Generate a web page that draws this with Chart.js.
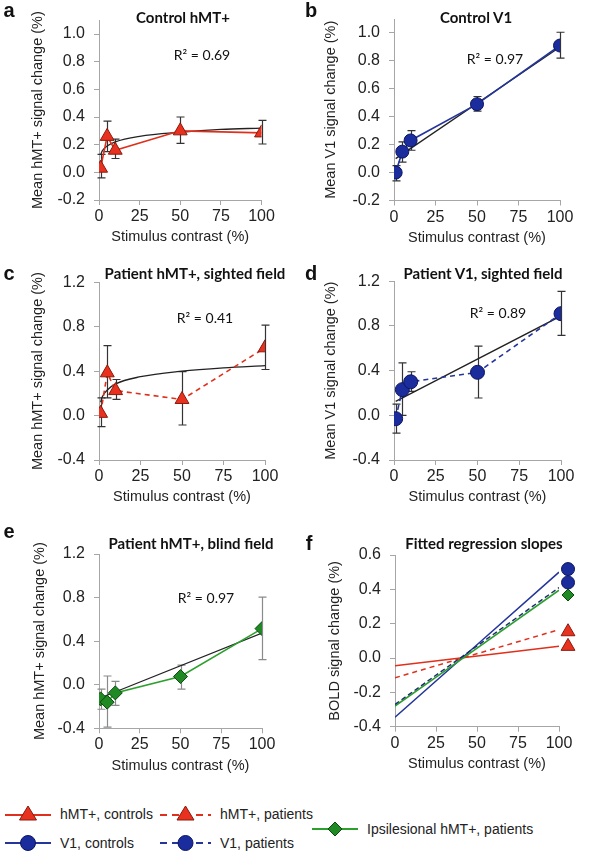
<!DOCTYPE html>
<html>
<head>
<meta charset="utf-8">
<script src="https://cdn.jsdelivr.net/npm/chart.js@4.4.1/dist/chart.umd.min.js"></script>
<style>
body { margin:0; background:#fff; width:598px; height:853px; position:relative; overflow:hidden; font-family:"Liberation Sans", Arial, sans-serif; color:#111; }
canvas { position:absolute; }
.lbl { position:absolute; font-weight:bold; font-size:20px; line-height:1; transform:translate(-50%,-50%); }
.ttl { position:absolute; font-family:Lato, sans-serif; font-weight:bold; font-size:15px; line-height:1; white-space:nowrap; transform:translate(-50%,-50%); }
.r2 { position:absolute; font-family:Lato, sans-serif; font-size:14px; line-height:1; white-space:nowrap; transform:translate(-50%,-50%); }
.leg { position:absolute; display:flex; align-items:center; font-size:14px; color:#222; white-space:nowrap; transform:translateY(-50%); }
.leg svg { margin-right:9px; }
</style>
</head>
<body>
<canvas id="cvA"></canvas><canvas id="cvB"></canvas><canvas id="cvC"></canvas>
<canvas id="cvD"></canvas><canvas id="cvE"></canvas><canvas id="cvF"></canvas>

<div class="lbl" style="left:9px;top:10px">a</div>
<div class="lbl" style="left:311px;top:10px">b</div>
<div class="lbl" style="left:9px;top:273px">c</div>
<div class="lbl" style="left:311px;top:273px">d</div>
<div class="lbl" style="left:9px;top:531px">e</div>
<div class="lbl" style="left:309px;top:543px">f</div>

<div class="ttl" style="left:183px;top:17px">Control hMT+</div>
<div class="ttl" style="left:476px;top:17px">Control V1</div>
<div class="ttl" style="left:195px;top:273px">Patient hMT+, sighted field</div>
<div class="ttl" style="left:483px;top:273px">Patient V1, sighted field</div>
<div class="ttl" style="left:191px;top:543px">Patient hMT+, blind field</div>
<div class="ttl" style="left:484px;top:543px">Fitted regression slopes</div>

<div class="r2" style="left:202px;top:55px">R² = 0.69</div>
<div class="r2" style="left:495px;top:59px">R² = 0.97</div>
<div class="r2" style="left:205px;top:318px">R² = 0.41</div>
<div class="r2" style="left:498px;top:313px">R² = 0.89</div>
<div class="r2" style="left:206px;top:598px">R² = 0.97</div>

<div class="leg" style="left:5px;top:814px">
  <svg width="46" height="18"><line x1="0" y1="10" x2="46" y2="10" stroke="#e0301c" stroke-width="2.2"/><polygon points="23,1 31.5,15 14.5,15" fill="#e8321f" stroke="#8a1a0c"/></svg>hMT+, controls</div>
<div class="leg" style="left:160px;top:814px">
  <svg width="51" height="18"><line x1="0" y1="10" x2="51" y2="10" stroke="#e0301c" stroke-width="2.2" stroke-dasharray="7,5"/><polygon points="25.5,1 34,15 17,15" fill="#e8321f" stroke="#8a1a0c"/></svg>hMT+, patients</div>
<div class="leg" style="left:5px;top:843px">
  <svg width="46" height="18"><line x1="0" y1="9" x2="46" y2="9" stroke="#24369c" stroke-width="2.2"/><circle cx="23" cy="9" r="7.5" fill="#1b2c9c" stroke="#0c1660"/></svg>V1, controls</div>
<div class="leg" style="left:160px;top:843px">
  <svg width="51" height="18"><line x1="0" y1="9" x2="51" y2="9" stroke="#24369c" stroke-width="2.2" stroke-dasharray="7,5"/><circle cx="25.5" cy="9" r="7.5" fill="#1b2c9c" stroke="#0c1660"/></svg>V1, patients</div>
<div class="leg" style="left:312px;top:829px">
  <svg width="46" height="18"><line x1="0" y1="9" x2="46" y2="9" stroke="#2ca02c" stroke-width="2.2"/><polygon points="23,2 30,9 23,16 16,9" fill="#1f8a24" stroke="#0a4a0e"/></svg>Ipsilesional hMT+, patients</div>

<script>
// stimulus contrast levels (%)
const contrast = [1, 5, 10, 50, 100];
const xTicks = [0, 25, 50, 75, 100];
const yTicksTop = [-0.2, 0, 0.2, 0.4, 0.6, 0.8, 1.0];
const yTicksMid = [-0.4, 0, 0.4, 0.8, 1.2];
const yTicksSlope = [-0.4, -0.2, 0, 0.2, 0.4, 0.6];

// a: control hMT+
const hmtCtrlMean = [0.03, 0.26, 0.16, 0.30, 0.285];
const hmtCtrlHi = [0.13, 0.37, 0.24, 0.40, 0.375];
const hmtCtrlLo = [-0.04, 0.15, 0.10, 0.21, 0.205];
const fitCurveX = [1, 2, 5, 10, 25, 50, 75, 100];
const hmtCtrlFit = [0.125, 0.155, 0.19, 0.22, 0.26, 0.29, 0.31, 0.32];

// b: control V1
const v1CtrlMean = [0.0, 0.15, 0.23, 0.49, 0.91];
const v1CtrlHi = [0.05, 0.22, 0.30, 0.545, 1.005];
const v1CtrlLo = [-0.06, 0.075, 0.16, 0.44, 0.82];
const fitLineX = [1, 100];
const v1CtrlFit = [0.10, 0.90];

// c: patient hMT+, sighted field
const hmtPatMean = [0.02, 0.385, 0.225, 0.145, 0.61];
const hmtPatHi = [0.16, 0.63, 0.325, 0.395, 0.815];
const hmtPatLo = [-0.10, 0.16, 0.145, -0.085, 0.415];
const hmtPatFit = [0.12, 0.17, 0.23, 0.285, 0.35, 0.40, 0.43, 0.45];

// d: patient V1, sighted field
const v1PatMean = [-0.03, 0.23, 0.30, 0.385, 0.91];
const v1PatHi = [0.10, 0.47, 0.39, 0.62, 1.11];
const v1PatLo = [-0.16, 0.0, 0.215, 0.155, 0.715];
const v1PatFit = [0.125, 0.89];

// e: patient hMT+, blind field
const ipsiMean = [-0.13, -0.16, -0.075, 0.075, 0.515];
const ipsiHi = [-0.04, 0.08, 0.03, 0.18, 0.805];
const ipsiLo = [-0.225, -0.39, -0.19, -0.04, 0.23];
const ipsiFit = [-0.12, 0.475];

// f: fitted regression slopes
const slopeX = [0, 100];
const slopeHmtCtrl = [-0.045, 0.068];
const slopeHmtPat = [-0.115, 0.165];
const slopeV1Ctrl = [-0.345, 0.50];
const slopeV1Pat = [-0.27, 0.41];
const slopeIpsi = [-0.28, 0.395];
const markerX = [105.5];
const markV1Ctrl = [0.518];
const markV1Pat = [0.44];
const markIpsi = [0.367];
const markHmtPat = [0.153];
const markHmtCtrl = [0.068];

Chart.defaults.font.family = '"Liberation Sans", Arial, sans-serif';
const axisGray = '#a6a6a6';
const red = '#e0301c', redFill = '#e8321f', redEdge = '#8a1a0c';
const blue = '#24369c', blueFill = '#1b2c9c', blueEdge = '#0c1660';
const green = '#2ca02c', greenFill = '#1f8a24', greenEdge = '#0a4a0e';

const pts = (xs, ys) => xs.map((x, i) => ({ x: x, y: ys[i] }));

// error bars drawn with the chart's scales
Chart.register({
  id: 'errorBars',
  beforeDatasetsDraw(chart, args, opts) {
    if (!opts || !opts.hi) return;
    const ctx = chart.ctx, sx = chart.scales.x, sy = chart.scales.y;
    ctx.save();
    ctx.strokeStyle = opts.color;
    ctx.lineWidth = 1.2;
    contrast.forEach((xv, i) => {
      const px = Math.round(sx.getPixelForValue(xv)) + 0.5;
      const t = sy.getPixelForValue(opts.hi[i]);
      const b = sy.getPixelForValue(opts.lo[i]);
      ctx.beginPath();
      ctx.moveTo(px, t); ctx.lineTo(px, b);
      ctx.moveTo(px - 4, t); ctx.lineTo(px + 4, t);
      ctx.moveTo(px - 4, b); ctx.lineTo(px + 4, b);
      ctx.stroke();
    });
    ctx.restore();
  }
});

// points that sit right of the axis end (panel f)
Chart.register({
  id: 'outsidePoints',
  afterDatasetsDraw(chart) {
    const full = { left: 0, top: 0, right: chart.width, bottom: chart.height };
    chart.data.datasets.forEach((ds, i) => {
      if (!ds.outside) return;
      chart.getDatasetMeta(i).data.forEach(p => p.draw(chart.ctx, full));
    });
  }
});

function dataLine(ys, color, dash, style, fill, edge, r) {
  return {
    data: pts(contrast, ys), showLine: true, borderColor: color, borderWidth: 1.6,
    borderDash: dash, pointStyle: style, pointRadius: r,
    pointBackgroundColor: fill, pointBorderColor: edge, pointBorderWidth: 1
  };
}
function fitLine(xs, ys, color, dash, width) {
  return {
    data: pts(xs, ys), showLine: true, borderColor: color, borderWidth: width || 1.3,
    borderDash: dash || [], pointRadius: 0, cubicInterpolationMode: 'monotone'
  };
}
function marker(ys, style, fill, edge, r) {
  return {
    data: pts(markerX, ys), showLine: false, pointStyle: style, pointRadius: r,
    pointBackgroundColor: fill, pointBorderColor: edge, pointBorderWidth: 1, outside: true
  };
}

function panel(id, o) {
  const cv = document.getElementById(id);
  cv.width = o.box[2]; cv.height = o.box[3];
  cv.style.left = o.box[0] + 'px'; cv.style.top = o.box[1] + 'px';
  const xAxisH = 46;
  const padL = o.yTitleX - 8.4 - o.box[0];
  const yAxisW = o.area[0] - o.box[0] - padL;
  const padR = o.box[0] + o.box[2] - o.area[1];
  const padT = o.area[2] - o.box[1];
  const padB = o.box[1] + o.box[3] - o.area[3] - xAxisH;
  new Chart(cv, {
    type: 'scatter',
    data: { datasets: o.datasets },
    options: {
      responsive: false,
      animation: false,
      layout: { padding: { left: padL, right: padR, top: padT, bottom: padB } },
      plugins: { legend: { display: false }, tooltip: { enabled: false }, errorBars: o.err || {} },
      scales: {
        x: {
          type: 'linear', min: 0, max: 100,
          afterBuildTicks: s => { s.ticks = xTicks.map(v => ({ value: v })); },
          afterFit: s => { s.height = xAxisH; },
          grid: { drawOnChartArea: false, tickLength: 5, color: axisGray },
          border: { color: axisGray },
          ticks: { font: { size: 16 }, color: '#222', padding: 2, maxRotation: 0 },
          title: { display: true, text: 'Stimulus contrast (%)', font: { size: 14.5 }, color: '#222', padding: 0 }
        },
        y: {
          type: 'linear', min: o.yMin, max: o.yMax,
          afterBuildTicks: s => { s.ticks = o.yTicks.map(v => ({ value: v })); },
          afterFit: s => { s.width = yAxisW; },
          grid: { drawOnChartArea: false, tickLength: 5, color: axisGray },
          border: { color: axisGray },
          ticks: { font: { size: 16 }, color: '#222', padding: 9, callback: v => v.toFixed(1) },
          title: { display: true, text: o.yTitle, font: { size: 14.5 }, color: '#222', padding: 0 }
        }
      }
    }
  });
}

panel('cvA', {
  box: [0, 0, 298, 262], area: [99, 261.5, 20.2, 200], yTitleX: 38,
  yMin: -0.2, yMax: 1.1, yTicks: yTicksTop, yTitle: 'Mean hMT+ signal change (%)',
  err: { hi: hmtCtrlHi, lo: hmtCtrlLo, color: '#333' },
  datasets: [
    dataLine(hmtCtrlMean, red, [], 'triangle', redFill, redEdge, 8),
    fitLine(fitCurveX, hmtCtrlFit, '#222')
  ]
});

panel('cvB', {
  box: [298, 0, 300, 262], area: [394, 560, 19, 200.5], yTitleX: 331,
  yMin: -0.2, yMax: 1.1, yTicks: yTicksTop, yTitle: 'Mean V1 signal change (%)',
  err: { hi: v1CtrlHi, lo: v1CtrlLo, color: '#333' },
  datasets: [
    dataLine(v1CtrlMean, blue, [], 'circle', blueFill, blueEdge, 6.5),
    fitLine(fitLineX, v1CtrlFit, '#222')
  ]
});

panel('cvC', {
  box: [0, 262, 298, 268], area: [99, 265, 282.3, 460], yTitleX: 38,
  yMin: -0.4, yMax: 1.2, yTicks: yTicksMid, yTitle: 'Mean hMT+ signal change (%)',
  err: { hi: hmtPatHi, lo: hmtPatLo, color: '#333' },
  datasets: [
    dataLine(hmtPatMean, red, [5, 4], 'triangle', redFill, redEdge, 8),
    fitLine(fitCurveX, hmtPatFit, '#222')
  ]
});

panel('cvD', {
  box: [298, 262, 300, 268], area: [394, 561, 281.3, 460], yTitleX: 331,
  yMin: -0.4, yMax: 1.2, yTicks: yTicksMid, yTitle: 'Mean V1 signal change (%)',
  err: { hi: v1PatHi, lo: v1PatLo, color: '#333' },
  datasets: [
    dataLine(v1PatMean, blue, [5, 4], 'circle', blueFill, blueEdge, 7),
    fitLine(fitLineX, v1PatFit, '#222')
  ]
});

panel('cvE', {
  box: [0, 530, 298, 272], area: [99, 262, 554, 728.3], yTitleX: 40,
  yMin: -0.4, yMax: 1.2, yTicks: yTicksMid, yTitle: 'Mean hMT+ signal change (%)',
  err: { hi: ipsiHi, lo: ipsiLo, color: '#8a8a8a' },
  datasets: [
    dataLine(ipsiMean, green, [], 'rectRot', greenFill, greenEdge, 7),
    fitLine(fitLineX, ipsiFit, '#222')
  ]
});

panel('cvF', {
  box: [298, 530, 300, 272], area: [395, 559, 555, 726.7], yTitleX: 335,
  yMin: -0.4, yMax: 0.6, yTicks: yTicksSlope, yTitle: 'BOLD signal change (%)',
  datasets: [
    fitLine(slopeX, slopeV1Pat, '#1e2a70', [5, 3], 1.4),
    fitLine(slopeX, slopeIpsi, green, [], 1.6),
    fitLine(slopeX, slopeV1Ctrl, blue, [], 1.5),
    fitLine(slopeX, slopeHmtPat, red, [5, 4], 1.5),
    fitLine(slopeX, slopeHmtCtrl, red, [], 1.5),
    marker(markV1Ctrl, 'circle', blueFill, blueEdge, 6.5),
    marker(markV1Pat, 'circle', blueFill, blueEdge, 6.5),
    marker(markIpsi, 'rectRot', greenFill, greenEdge, 6),
    marker(markHmtPat, 'triangle', redFill, redEdge, 8),
    marker(markHmtCtrl, 'triangle', redFill, redEdge, 8)
  ]
});
</script>
</body>
</html>
